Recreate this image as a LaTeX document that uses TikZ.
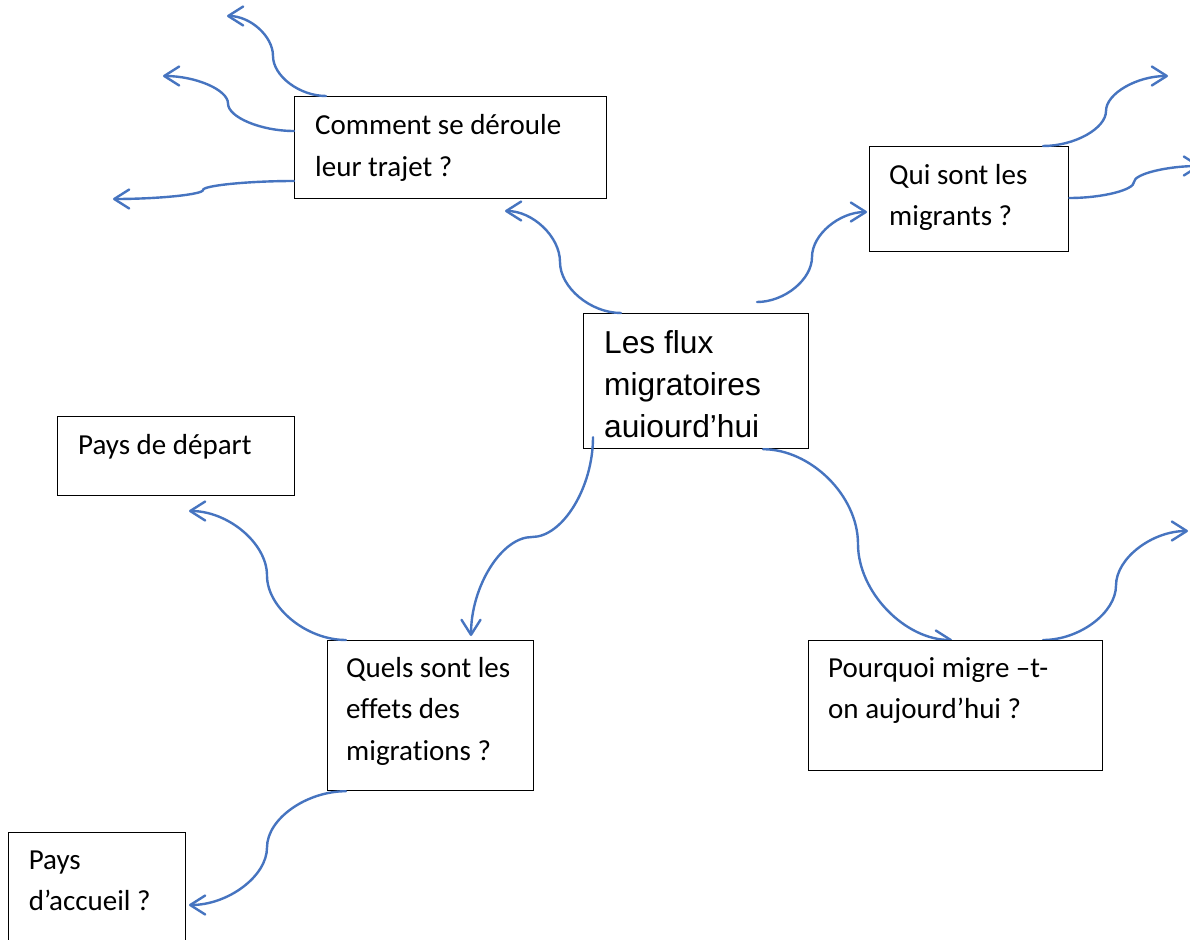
\documentclass[tikz,border=0pt]{standalone}
\usepackage{fontspec}
\setmainfont{Carlito}[Ligatures={NoCommon}]
\newfontfamily\arialf{Liberation Sans}[Ligatures={NoCommon}]
\usetikzlibrary{arrows.meta,calc}
\definecolor{linkblue}{HTML}{4674C0}
\tikzset{
  conn/.style={draw=linkblue, line width=2.4pt, line cap=round,
    -{Straight Barb[length=15pt,width=19pt,round]}},
  box/.style={draw=black, line width=1.2pt, fill=white, rectangle, inner sep=0pt, anchor=north west},
  txt/.style={anchor=base west, inner sep=0pt, text width=330pt, align=flush left,
    font=\fontsize{29}{41.5}\selectfont},
  bigtxt/.style={anchor=base west, inner sep=0pt, text width=330pt, align=flush left,
    font=\arialf\fontsize{31.7}{42}\selectfont},
}
\begin{document}
\begin{tikzpicture}[x=1pt,y=1pt]
\useasboundingbox (0,-939) rectangle (1190,0);
\clip (0,-939) rectangle (1190,0);
\fill[white] (0,-939) rectangle (1190,0);

% boxes (except the last one, drawn over its incoming arrow)
\node[box, minimum width=312pt, minimum height=102pt] (comment) at (294,-96) {};
\node[box, minimum width=199pt, minimum height=105pt] (qui) at (869,-146) {};
\node[box, minimum width=225pt, minimum height=135pt] (flux) at (583,-313) {};
\node[box, minimum width=237pt, minimum height=79pt] (depart) at (57,-416) {};
\node[box, minimum width=206pt, minimum height=150pt] (quels) at (327,-640) {};
\node[box, minimum width=177pt, minimum height=130pt] (accueil) at (8,-832) {};

% texts
\node[txt] (commentT) at (315,-134.5) {Comment se déroule\\leur trajet ?};
\node[txt] (quiT) at (889,-184) {Qui sont les\\migrants ?};
\node[bigtxt] (fluxT) at (604,-353) {Les flux\\migratoires\\auiourd’hui};
\node[txt] (departT) at (78,-454) {Pays de départ};
\node[txt] (quelsT) at (346,-677) {Quels sont les\\effets des\\migrations ?};
\node[txt] (accueilT) at (28.6,-869) {Pays\\d’accueil ?};

% connector end points
\coordinate (s1) at ($(flux.north west)+(38,0)$);
\coordinate (m1) at (560,-262);   \coordinate (t1) at (505,-211);
\coordinate (s2) at ($(flux.north west)+(174,11)$);
\coordinate (m2) at (812,-257);   \coordinate (t2) at (867,-212);
\coordinate (s3) at ($(flux.south west)+(10,12)$);
\coordinate (m3) at (532,-537);   \coordinate (t3) at (471,-636);
\coordinate (s4) at ($(flux.south west)+(180,0)$);
\coordinate (m4) at (858,-544);   \coordinate (t4) at (952,-640);
\coordinate (s5) at ($(qui.north west)+(174,0)$);
\coordinate (m5) at (1106,-111);  \coordinate (t5) at (1168,-76);
\coordinate (s6) at ($(qui.north east)+(0,-52)$);
\coordinate (m6) at (1134,-182);  \coordinate (t6) at (1200,-166);
\coordinate (s7) at ($(comment.north west)+(32,0)$);
\coordinate (m7) at (273,-56);    \coordinate (t7) at (227,-16);
\coordinate (s8) at ($(comment.north west)+(0,-35)$);
\coordinate (m8) at (228,-103.5); \coordinate (t8) at (163,-76);
\coordinate (s9) at ($(comment.north west)+(0,-85)$);
\coordinate (m9) at (203,-190);   \coordinate (t9) at (113,-199);
\coordinate (s10) at ($(quels.north west)+(19,0)$);
\coordinate (m10) at (267,-575.5); \coordinate (t10) at (189,-511);
\coordinate (s11) at ($(quels.south west)+(19,0)$);
\coordinate (m11) at (267,-847.5); \coordinate (t11) at (189,-905);
\coordinate (s12) at (1043,-640);
\coordinate (m12) at (1116,-585.5); \coordinate (t12) at (1188,-531);

% connectors
\draw[conn] (s1) to[out=180,in=-90,out distance=30.5pt,in distance=25.5pt] (m1)
                 to[out=90,in=0,out distance=25.5pt,in distance=27.5pt] (t1);
\draw[conn] (s2) to[out=0,in=-90,out distance=27.5pt,in distance=22.5pt] (m2)
                 to[out=90,in=180,out distance=22.5pt,in distance=27.5pt] (t2);
\draw[conn] (s3) to[out=-90,in=0,out distance=50.5pt,in distance=30.5pt] (m3)
                 to[out=180,in=90,out distance=30.5pt,in distance=49.5pt] (t3);
\draw[conn] (s4) to[out=0,in=90,out distance=47.5pt,in distance=48.5pt] (m4)
                 to[out=-90,in=180,out distance=48pt,in distance=47pt] (t4);
\draw[conn] (s5) to[out=0,in=-90,out distance=31.5pt,in distance=17.5pt] (m5)
                 to[out=90,in=180,out distance=17.5pt,in distance=31pt] (t5);
\draw[conn] (s6) to[out=0,in=-90,out distance=33pt,in distance=8pt] (m6)
                 to[out=90,in=180,out distance=8pt,in distance=33pt] (t6);
\draw[conn] (s7) to[out=180,in=-90,out distance=26.5pt,in distance=20pt] (m7)
                 to[out=90,in=0,out distance=20pt,in distance=23pt] (t7);
\draw[conn] (s8) to[out=180,in=-90,out distance=33pt,in distance=13.75pt] (m8)
                 to[out=90,in=0,out distance=13.75pt,in distance=32.5pt] (t8);
\draw[conn] (s9) to[out=180,in=90,out distance=45.5pt,in distance=4.5pt] (m9)
                 to[out=-90,in=0,out distance=4.5pt,in distance=45pt] (t9);
\draw[conn] (s10) to[out=180,in=-90,out distance=39.5pt,in distance=32.25pt] (m10)
                  to[out=90,in=0,out distance=32.25pt,in distance=39pt] (t10);
\draw[conn] (s11) to[out=180,in=90,out distance=39.5pt,in distance=28.75pt] (m11)
                  to[out=-90,in=0,out distance=28.75pt,in distance=39pt] (t11);
\draw[conn] (s12) to[out=0,in=-90,out distance=36.5pt,in distance=27.25pt] (m12)
                  to[out=90,in=180,out distance=27.25pt,in distance=36pt] (t12);

% last box, over the tip of its incoming arrow
\node[box, minimum width=294pt, minimum height=130pt] (pourquoi) at (808,-640) {};
\node[txt] (pourquoiT) at (828,-677) {Pourquoi migre –t-\\on aujourd’hui ?};
\end{tikzpicture}
\end{document}
